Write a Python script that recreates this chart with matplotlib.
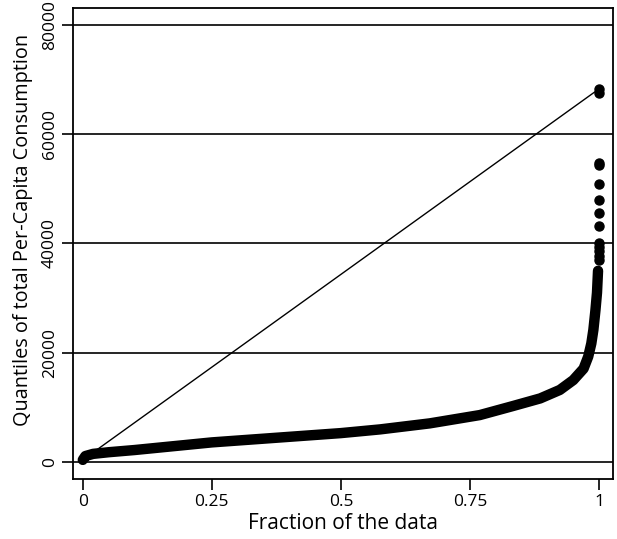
import matplotlib
matplotlib.use("Agg")
import matplotlib.pyplot as plt

plt.rcParams['font.family'] = ['Open Sans', 'DejaVu Sans']

# quantile curve (fraction, per-capita consumption)
frac = [0, 0.005, 0.02, 0.05, 0.1, 0.25, 0.5, 0.576, 0.672, 0.769, 0.833, 0.886,
        0.924, 0.95, 0.97, 0.979, 0.985, 0.989, 0.993, 0.996, 0.998]
vals = [400, 1100, 1500, 1800, 2200, 3600, 5300, 5980, 7080, 8600, 10250, 11650,
        13200, 15000, 17100, 19300, 21700, 24200, 27800, 31000, 35000]

# separate top-tail observations
tail_frac = [0.999, 0.999, 0.999, 0.999, 0.999, 1.0, 1.0, 1.0, 1.0, 1.0, 1.0, 1.0, 1.0]
tail_vals = [37000, 37800, 38600, 39400, 40000, 43200, 45500, 48000, 50800, 54300, 54800, 67600, 68300]

# reference line from min to max
ref_x = [0, 1]
ref_y = [400, 68300]

grid_vals = [0, 20000, 40000, 60000, 80000]
xticks = [0, 0.25, 0.5, 0.75, 1]
xticklabels = ['0', '0.25', '0.5', '0.75', '1']

fig = plt.figure(figsize=(6.17, 5.39), dpi=100)
ax = fig.add_axes([73 / 617, 1 - 479 / 539, 540 / 617, 471 / 539])

for g in grid_vals:
    ax.axhline(g, color='black', lw=1.2, zorder=1)

ax.plot(ref_x, ref_y, color='black', lw=1.0, zorder=2)
ax.plot(frac, vals, color='black', lw=7.5, solid_capstyle='round',
        solid_joinstyle='round', zorder=3)
ax.plot(tail_frac, tail_vals, 'o', color='black', ms=6.5, zorder=3)

ax.set_xlim(-0.019, 1.027)
ax.set_ylim(-3100, 83100)

ax.set_xticks(xticks)
ax.set_xticklabels(xticklabels)
ax.set_yticks(grid_vals)
ax.set_yticklabels([str(v) for v in grid_vals], rotation=90, va='center')

ax.tick_params(direction='out', length=8, width=1.2, labelsize=12.5, pad=3)
for s in ax.spines.values():
    s.set_linewidth(1.3)

ax.set_xlabel('Fraction of the data', fontsize=15, labelpad=2)
ylab = ax.set_ylabel('Quantiles of total Per-Capita Consumption', fontsize=14.3, va='center')
ax.yaxis.set_label_coords(-0.093, 0.529)

fig.savefig('out.png', dpi=100)
